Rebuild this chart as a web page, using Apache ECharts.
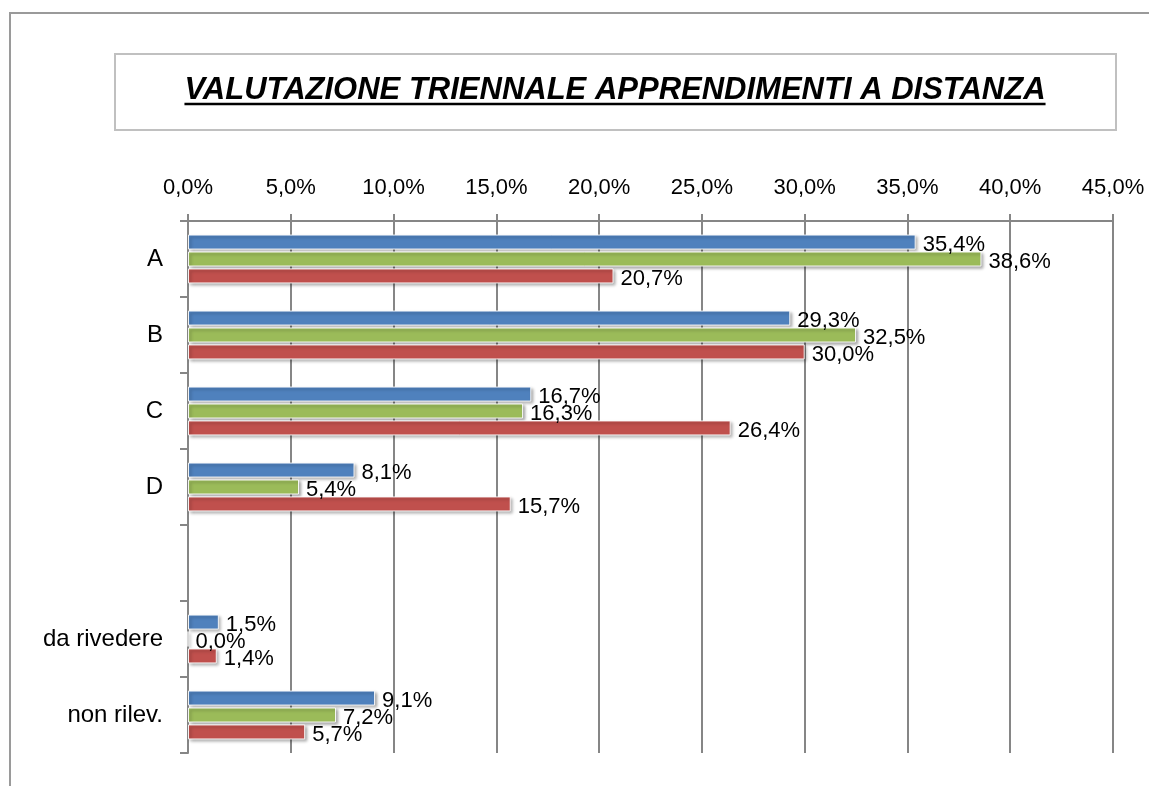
<!DOCTYPE html>
<html>
<head>
<meta charset="utf-8">
<script src="https://cdn.jsdelivr.net/npm/echarts@6/dist/echarts.min.js"></script>
<style>
  html, body { margin: 0; padding: 0; background: #ffffff; }
  #chart { width: 1149px; height: 786px; }
</style>
</head>
<body>
<div id="chart"></div>
<script>
// Categories from top to bottom (empty slot kept as a spacer row)
const categories = ['A', 'B', 'C', 'D', '', 'da rivedere', 'non rilev.'];

// Percentages per series, one value per category
const serieBlu   = [35.4, 29.3, 16.7, 8.1, null, 1.5, 9.1];
const serieVerde = [38.6, 32.5, 16.3, 5.4, null, 0.0, 7.2];
const serieRossa = [20.7, 30.0, 26.4, 15.7, null, 1.4, 5.7];

// Value axis ticks
const tickValues = [0, 5, 10, 15, 20, 25, 30, 35, 40, 45];

const titleText = 'VALUTAZIONE TRIENNALE APPRENDIMENTI A DISTANZA';
const FONT = "'Liberation Sans', Arial, sans-serif";

function pct(v) {
  return v.toFixed(1).replace('.', ',') + '%';
}

// measure the title so the underline spans exactly the text
const ctx = document.createElement('canvas').getContext('2d');
ctx.font = "italic bold 31px 'Liberation Sans'";
const titleW = ctx.measureText(titleText).width;
const titleCx = 615;

function barSeries(name, data, color) {
  return {
    name: name,
    type: 'bar',
    data: data,
    barWidth: 15,
    barGap: '13%',
    itemStyle: {
      color: color,
      borderColor: 'rgba(255,255,255,0.9)',
      borderWidth: 1,
      shadowColor: 'rgba(0,0,0,0.35)',
      shadowBlur: 3,
      shadowOffsetX: 2,
      shadowOffsetY: 2
    },
    label: {
      show: true,
      position: 'right',
      distance: 7,
      color: '#000',
      fontFamily: FONT,
      fontSize: 22,
      offset: [0, 3],
      formatter: p => (p.value == null ? '' : pct(p.value))
    }
  };
}

const chart = echarts.init(document.getElementById('chart'), null, { renderer: 'canvas' });

chart.setOption({
  animation: false,
  backgroundColor: '#ffffff',
  grid: { left: 188, right: 36, top: 221, bottom: 33, containLabel: false },
  xAxis: {
    type: 'value',
    position: 'top',
    min: tickValues[0],
    max: tickValues[tickValues.length - 1],
    interval: tickValues[1] - tickValues[0],
    axisLine: { show: true, lineStyle: { color: '#868686', width: 2 } },
    axisTick: { show: true, inside: false, length: 7, lineStyle: { color: '#868686', width: 2 } },
    splitLine: { show: true, lineStyle: { color: '#868686', width: 2 } },
    axisLabel: {
      color: '#000',
      fontFamily: FONT,
      fontSize: 22,
      margin: 22,
      formatter: v => pct(v)
    }
  },
  yAxis: {
    type: 'category',
    data: categories,
    inverse: true,
    axisLine: { show: true, lineStyle: { color: '#868686', width: 2 } },
    axisTick: { show: true, inside: false, length: 8, lineStyle: { color: '#868686', width: 2 } },
    splitLine: { show: false },
    axisLabel: {
      color: '#000',
      fontFamily: FONT,
      fontSize: 24,
      margin: 25
    }
  },
  series: [
    barSeries('Serie 1', serieBlu, '#4F81BD'),
    barSeries('Serie 2', serieVerde, '#9BBB59'),
    barSeries('Serie 3', serieRossa, '#C0504D')
  ],
  graphic: [
    {
      type: 'rect',
      silent: true,
      shape: { x: 10, y: 13, width: 1300, height: 900 },
      style: { fill: null, stroke: '#9a9a9a', lineWidth: 2 }
    },
    {
      type: 'rect',
      silent: true,
      shape: { x: 115, y: 54, width: 1001, height: 76 },
      style: { fill: '#ffffff', stroke: '#c0c0c0', lineWidth: 2 }
    },
    {
      type: 'text',
      silent: true,
      x: titleCx,
      y: 90,
      style: {
        text: titleText,
        fontFamily: FONT,
        fontSize: 31,
        fontWeight: 'bold',
        fontStyle: 'italic',
        fill: '#000',
        align: 'center',
        verticalAlign: 'middle'
      }
    },
    {
      type: 'line',
      silent: true,
      shape: { x1: titleCx - titleW / 2, y1: 104, x2: titleCx + titleW / 2, y2: 104 },
      style: { stroke: '#000', lineWidth: 2.5 }
    }
  ]
});
</script>
</body>
</html>
